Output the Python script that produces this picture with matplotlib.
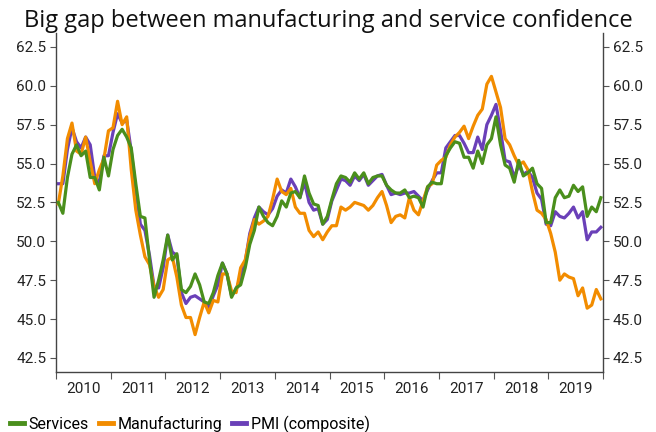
import numpy as np
import matplotlib
matplotlib.use('Agg')
import matplotlib.pyplot as plt

# monthly survey readings, Jan 2010 - Dec 2019
years = ['2010', '2011', '2012', '2013', '2014', '2015', '2016', '2017', '2018', '2019']

services = [
    52.5, 51.8, 54.1, 55.6, 56.2, 55.5, 55.8, 54.1, 54.1, 53.3, 55.4, 54.2,
    55.9, 56.8, 57.2, 56.7, 56.0, 53.7, 51.6, 51.5, 48.8, 46.4, 47.5, 48.8,
    50.4, 48.8, 49.2, 46.9, 46.7, 47.1, 47.9, 47.2, 46.1, 46.0, 46.7, 47.8,
    48.6, 47.9, 46.4, 47.0, 47.2, 48.3, 49.8, 50.7, 52.2, 51.6, 51.2, 51.0,
    51.6, 52.6, 52.2, 53.1, 53.2, 52.8, 54.2, 53.1, 52.4, 52.3, 51.1, 51.6,
    52.7, 53.7, 54.2, 54.1, 53.8, 54.4, 54.0, 54.4, 53.7, 54.1, 54.2, 54.2,
    53.6, 53.3, 53.1, 53.1, 53.3, 52.8, 52.9, 52.8, 52.2, 53.5, 53.8, 53.7,
    53.7, 55.5, 56.0, 56.4, 56.3, 55.4, 55.4, 54.7, 55.8, 55.0, 56.2, 56.6,
    58.0, 56.2, 54.9, 54.7, 53.8, 55.2, 54.2, 54.4, 54.7, 53.7, 53.4, 51.2,
    51.2, 52.8, 53.3, 52.8, 52.9, 53.6, 53.2, 53.5, 51.6, 52.2, 51.9, 52.8,
]

manufacturing = [
    52.4, 54.2, 56.6, 57.6, 55.8, 55.6, 56.7, 55.1, 53.7, 54.6, 55.3, 57.1,
    57.3, 59.0, 57.5, 58.0, 54.6, 52.0, 50.4, 49.0, 48.5, 47.1, 46.4, 46.9,
    48.8, 49.0, 47.7, 45.9, 45.1, 45.1, 44.0, 45.1, 46.1, 45.4, 46.2, 46.1,
    47.9, 47.9, 46.8, 46.7, 48.3, 48.8, 50.3, 51.4, 51.1, 51.3, 51.6, 52.7,
    54.0, 53.2, 53.0, 53.4, 52.2, 51.8, 51.8, 50.7, 50.3, 50.6, 50.1, 50.6,
    51.0, 51.0, 52.2, 52.0, 52.2, 52.5, 52.4, 52.3, 52.0, 52.3, 52.8, 53.2,
    52.3, 51.2, 51.6, 51.7, 51.5, 52.8, 52.0, 51.7, 52.6, 53.5, 53.7, 54.9,
    55.2, 55.4, 56.2, 56.7, 57.0, 57.4, 56.6, 57.4, 58.1, 58.5, 60.1, 60.6,
    59.6, 58.6, 56.6, 56.2, 55.5, 54.9, 55.1, 54.6, 53.2, 52.0, 51.8, 51.4,
    50.5, 49.3, 47.5, 47.9, 47.7, 47.6, 46.5, 47.0, 45.7, 45.9, 46.9, 46.3,
]

composite = [
    53.7, 53.7, 55.9, 57.3, 56.4, 56.0, 56.7, 56.2, 54.1, 53.8, 55.5, 55.5,
    57.0, 58.2, 57.6, 57.8, 55.8, 53.3, 51.1, 50.7, 49.1, 47.1, 47.0, 48.3,
    50.4, 49.3, 49.1, 46.7, 46.0, 46.4, 46.5, 46.3, 46.1, 45.7, 46.5, 47.2,
    48.6, 47.9, 46.5, 46.9, 47.7, 48.7, 50.5, 51.5, 52.2, 51.9, 51.7, 52.1,
    52.9, 53.3, 53.1, 54.0, 53.5, 52.8, 53.8, 52.5, 52.0, 52.1, 51.1, 51.4,
    52.6, 53.3, 54.0, 53.9, 53.6, 54.2, 53.9, 54.3, 53.6, 53.9, 54.2, 54.3,
    53.6, 53.0, 53.1, 53.0, 53.1, 53.1, 53.2, 52.9, 52.6, 53.3, 53.9, 54.4,
    54.4, 56.0, 56.4, 56.8, 56.8, 56.3, 55.7, 55.7, 56.7, 55.9, 57.5, 58.1,
    58.8, 57.1, 55.2, 55.1, 54.1, 54.9, 54.3, 54.5, 54.1, 53.1, 52.7, 51.1,
    51.0, 51.9, 51.6, 51.5, 51.8, 52.2, 51.5, 51.9, 50.1, 50.6, 50.6, 50.9,
]

c_serv = '#4a8f1c'
c_manu = '#f28c00'
c_pmi = '#6a40b8'

plt.rcParams['font.family'] = ['Roboto', 'DejaVu Sans']

months = np.arange(len(services))

fig = plt.figure(figsize=(6.56, 4.32), dpi=100)
ax = fig.add_axes([0.0854, 0.139, 0.834, 0.785])

ax.plot(months, composite, color=c_pmi, lw=2.3, label='PMI (composite)', zorder=2)
ax.plot(months, manufacturing, color=c_manu, lw=2.3, label='Manufacturing', zorder=3)
ax.plot(months, services, color=c_serv, lw=2.3, label='Services', zorder=4)

ax.set_xlim(-0.5, len(months) - 0.5)
ax.set_ylim(41.6, 63.4)

yt = np.arange(42.5, 63, 2.5)
ax.set_yticks(yt)
ax.set_yticklabels(['%.1f' % v for v in yt])
ax.tick_params(axis='y', which='both', left=True, right=True,
               labelleft=True, labelright=True, length=4, color='#555555',
               labelsize=11, labelcolor='#222222', pad=3)

# year boundaries as ticks, year names in between
ax.set_xticks(np.arange(-0.5, len(months) + 0.5, 12))
ax.set_xticklabels([])
ax.set_xticks(np.arange(5.5, len(months), 12), minor=True)
ax.set_xticklabels(years, minor=True)
ax.tick_params(axis='x', which='major', length=5, color='#555555')
ax.tick_params(axis='x', which='minor', length=0, labelsize=11,
               labelcolor='#222222', pad=7)

ax.spines['top'].set_visible(False)
for s in ['left', 'right', 'bottom']:
    ax.spines[s].set_color('#444444')
    ax.spines[s].set_linewidth(1.0)

fig.text(0.5, 0.952, 'Big gap between manufacturing and service confidence',
         ha='center', va='center', fontsize=17, family=['Open Sans', 'DejaVu Sans'],
         color='#111111')

h, l = ax.get_legend_handles_labels()
leg = fig.legend(h[::-1], l[::-1], loc='lower left', bbox_to_anchor=(0.0, -0.024),
                 ncol=3, frameon=False, fontsize=11.5, handlelength=0.9,
                 handletextpad=0.3, columnspacing=0.6, borderaxespad=0.2)
for ln in leg.get_lines():
    ln.set_linewidth(3.5)

fig.savefig('out.png', dpi=100)
